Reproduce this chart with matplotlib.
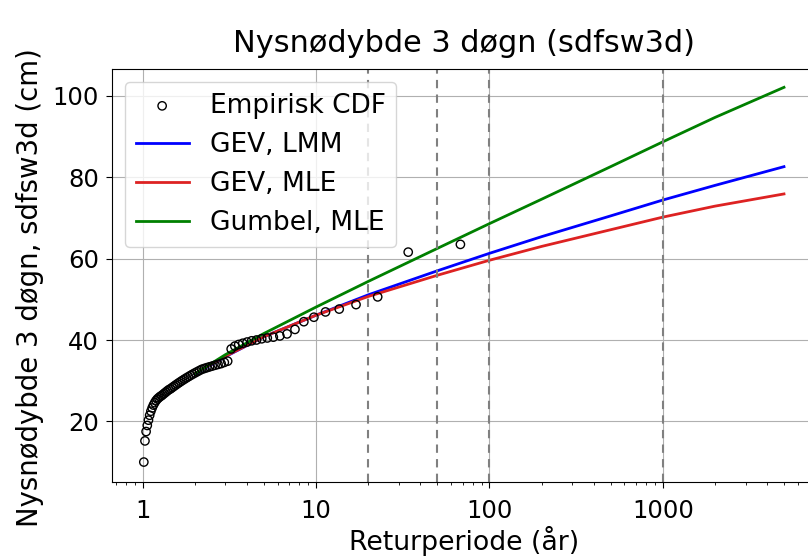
import numpy as np
import matplotlib
matplotlib.use("Agg")
import matplotlib.pyplot as plt

# Empirisk CDF: sorted values (largest first), return period = (n+1)/rank
n_years = 67
emp_values = [63.5, 61.6, 50.6, 48.7, 47.6, 46.9, 45.6, 44.5, 42.6, 41.5,
              41.0, 40.7, 40.5, 40.3, 40.0, 39.8, 39.5, 39.2, 38.9, 38.5,
              37.8, 34.8, 34.5, 34.2, 34.0, 33.8, 33.6, 33.4, 33.2, 33.0,
              32.8, 32.5, 32.2, 31.9, 31.6, 31.3, 31.0, 30.7, 30.4, 30.1,
              29.8, 29.5, 29.2, 28.9, 28.6, 28.3, 28.0, 27.8, 27.5, 27.2,
              26.9, 26.6, 26.3, 26.1, 25.8, 25.5, 25.1, 24.6, 24.0, 23.3,
              22.5, 21.5, 20.3, 19.0, 17.5, 15.2, 10.0]
ranks = np.arange(1, n_years + 1)
emp_T = (n_years + 1) / ranks

# fitted return levels
ret_periods = [2, 3, 5, 10, 20, 50, 100, 200, 500, 1000, 2000, 5000]
gev_lmm = [31.6, 35.9, 40.8, 46.1, 51.1, 57.0, 61.3, 65.4, 70.5, 74.4, 78.0, 82.6]
gev_mle = [31.8, 36.0, 40.8, 46.1, 50.7, 55.9, 59.6, 63.0, 67.1, 70.2, 72.9, 75.9]
gumbel_mle = [31.7, 36.4, 41.6, 48.1, 54.4, 62.5, 68.6, 74.6, 82.6, 88.7, 94.7, 102.1]

marked_periods = [20, 50, 100, 1000]

plt.rcParams['font.size'] = 17.5
plt.rcParams['xtick.major.size'] = 4.3
plt.rcParams['ytick.major.size'] = 4.3
plt.rcParams['xtick.major.pad'] = 8
plt.rcParams['ytick.major.pad'] = 5.0

fig = plt.figure(figsize=(8.08, 5.58), dpi=100)
ax = fig.add_axes([0.1386, 0.1362, 0.8713, 0.7401])

ax.scatter(emp_T, emp_values, s=36, facecolors='none', edgecolors='black',
           label='Empirisk CDF', zorder=3)
ax.plot(ret_periods, gev_lmm, color='blue', lw=2, label='GEV, LMM')
ax.plot(ret_periods, gev_mle, color='#dd2222', lw=2, label='GEV, MLE')
ax.plot(ret_periods, gumbel_mle, color='green', lw=2, label='Gumbel, MLE')

for t in marked_periods:
    ax.axvline(t, color='grey', linestyle=(0, (4, 3)), lw=1.5)

ax.set_xscale('log')
ax.set_xlim(0.665, 7650)
ax.set_ylim(5.1, 106.6)
ax.xaxis.set_major_formatter(matplotlib.ticker.FuncFormatter(lambda v, p: '%g' % v))
ax.grid(True, which='major')
ax.set_xlabel('Returperiode (år)', fontsize=19.3, labelpad=2)
ax.set_ylabel('Nysnødybde 3 døgn, sdfsw3d (cm)', fontsize=19.8)
ax.yaxis.set_label_coords(-0.097, 0.47)
ax.set_title('Nysnødybde 3 døgn (sdfsw3d)', fontsize=21.9, pad=12)
ax.legend(loc='upper left', fontsize=19)

fig.savefig('out.png', dpi=100)
